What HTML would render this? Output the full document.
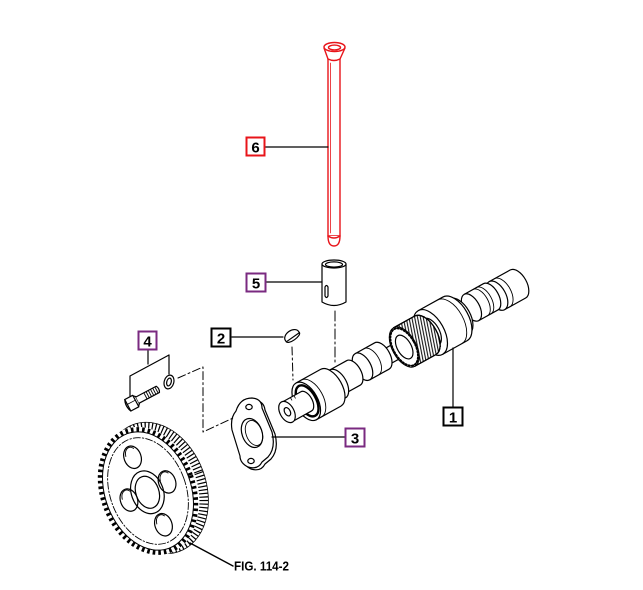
<!DOCTYPE html>
<html><head><meta charset="utf-8"><style>
html,body{margin:0;padding:0;background:#fff;}
svg{display:block;}
</style></head><body>
<svg width="643" height="590" viewBox="0 0 643 590" xmlns="http://www.w3.org/2000/svg">
<defs>
<pattern id="hatch" width="2.8" height="8" patternUnits="userSpaceOnUse" patternTransform="rotate(18)">
<line x1="0.6" y1="0" x2="0.6" y2="8" stroke="#000" stroke-width="1"/>
</pattern>
</defs>
<rect width="643" height="590" fill="#fff"/>
<g fill="none" stroke="#000" stroke-width="1.2" stroke-linejoin="round" stroke-linecap="round">

<!-- Pushrod (6) -->
<g stroke="#e8141a" stroke-width="1.4" fill="#fff">
<path d="M328,58 L328,236 L340,236 L340,58 Z"/>
<path d="M330.6,63 L330.6,233" stroke-width="0.8"/>
<path d="M324,48 L328,59 Q334,62 340,59 L345,48"/>
<ellipse cx="334.5" cy="47" rx="10.5" ry="4.5"/>
<ellipse cx="334.5" cy="47.5" rx="6" ry="2.4"/>
<path d="M328,236 Q328,246 334,246 Q340,246 340,236"/>
<path d="M328,236 Q334,240 340,236"/>
</g>
<line x1="265" y1="147" x2="328" y2="147"/>

<!-- Tappet (5) -->
<path d="M322,264 L322,302 Q334,309 346,302 L346,264" fill="#fff"/>
<ellipse cx="334" cy="264" rx="12" ry="4" fill="#fff"/>
<ellipse cx="334" cy="264.5" rx="8.5" ry="2.6"/>
<path d="M325,287 L325,296 Q326.5,299 328,296 L328,287 Q326.5,284 325,287Z"/>
<line x1="266" y1="282" x2="322" y2="282"/>
<path d="M335,311 L335,362" stroke-dasharray="10 3 2 3" stroke-width="1"/>

<!-- Key (2) -->
<g transform="translate(292,336) rotate(-35)">
<path d="M-8,0 A8,5.5 0 0 1 8,0 L8,1.5 L-8,1.5 Z" fill="#fff"/>
<path d="M-8,1.5 A8,3 0 0 0 8,1.5"/>
</g>
<line x1="232" y1="337" x2="283" y2="337"/>
<path d="M292,347 L293,380" stroke-dasharray="8 3 2 3" stroke-width="1"/>

<!-- Camshaft (1) -->
<g transform="translate(287,412) rotate(-29)">
<path d="M52,-8 L240,-8 L240,8 L52,8 Z" fill="#fff"/>
<!-- rear end -->
<path d="M240,-16 L264,-16 A8.8,16 0 0 1 264,16 L240,16 Z" fill="#fff"/>
<ellipse cx="240" cy="0" rx="8.8" ry="16" fill="#fff"/>
<path d="M246,-16 A8.8,16 0 0 1 246,16" stroke-width="0.9"/>
<!-- rear lobes -->
<path d="M212,-17 L234,-17 A8,15 0 0 1 234,13 L212,13 Z" fill="#fff"/>
<ellipse cx="212" cy="-2" rx="8" ry="15" fill="#fff"/>
<path d="M222,-17 A8,15 0 0 1 222,13" stroke-width="0.9"/>
<path d="M226,-17 A8,15 0 0 1 226,13" stroke-width="0.9"/>
<!-- journal 2 -->
<path d="M192,-20 L197,-20 A11,20 0 0 1 197,20 L192,20 Z" fill="#fff"/>
<path d="M164,-25 L192,-25 A13.7,25 0 0 1 192,25 L164,25 Z" fill="#fff"/>
<ellipse cx="164" cy="0" rx="13.7" ry="25" fill="#fff"/>
<ellipse cx="165" cy="0" rx="8" ry="15"/>
<path d="M186,-25 A13.7,25 0 0 1 186,25" stroke-width="0.9"/>
<!-- gear hub -->
<path d="M156,-17 L166,-17 L166,17 L156,17 Z" fill="#fff"/>
<!-- gear -->
<path d="M134,-22 L158,-22 A12,22 0 0 1 158,22 L134,22 Z" fill="#fff"/>
<path d="M134,-22 L158,-22 A12,22 0 0 1 158,22 L134,22 Z" fill="url(#hatch)"/>
<ellipse cx="134" cy="0" rx="12" ry="22" fill="#fff" stroke-width="1"/>
<ellipse cx="134" cy="0" rx="11" ry="20.5" stroke-width="2" stroke-dasharray="1.3 2"/>
<ellipse cx="134" cy="0" rx="7" ry="13"/>
<!-- lobe B -->
<path d="M88,-18 L110,-18 A8.3,15 0 0 1 110,12 L88,12 Z" fill="#fff"/>
<ellipse cx="88" cy="-3" rx="8.3" ry="15" fill="#fff"/>
<path d="M98,-18 A8.3,15 0 0 1 98,12" stroke-width="0.9"/>
<!-- lobe A -->
<path d="M58,-16 L77,-16 A7.7,14 0 0 1 77,12 L58,12 Z" fill="#fff"/>
<ellipse cx="58" cy="-2" rx="7.7" ry="14" fill="#fff"/>
<!-- collar -->
<path d="M50,-16 L58,-16 A8.8,16 0 0 1 58,16 L50,16 Z" fill="#fff"/>
<!-- front journal -->
<path d="M22,-21 L50,-21 A11.5,21 0 0 1 50,21 L22,21 Z" fill="#fff"/>
<ellipse cx="22" cy="0" rx="11.5" ry="21" fill="#fff"/>
<ellipse cx="23" cy="0" rx="9" ry="17" stroke-width="2.4"/>
<path d="M28,-21 A11.5,21 0 0 1 28,21" stroke-width="0.9"/>
<!-- nose -->
<path d="M0,-11 L22,-11 A6,11 0 0 1 22,11 L0,11 Z" fill="#fff"/>
<ellipse cx="0" cy="0" rx="7" ry="11.5" fill="#fff"/>
<ellipse cx="0.5" cy="0" rx="2.8" ry="4.5"/>
<path d="M10,-11 L10,-8 M14,-11 L14,-8" stroke-width="0.8"/>
</g>
<line x1="453" y1="348" x2="453" y2="407"/>

<!-- Gasket (3) -->
<path d="M239,411 Q243,400 254,400 Q264,401 265,410 L275,434 Q279,450 271,459 L265,464 Q261,472 251,469 Q243,465 243,458 L235,432 Q233,420 239,411 Z" fill="#fff"/>
<path d="M236,411 Q240,398 252,398 Q262,399 262,408 L272,432 Q276,448 268,457 L262,462 Q258,470 248,467 Q240,463 240,456 L232,430 Q230,418 236,411 Z" fill="#fff"/>
<ellipse cx="252" cy="433" rx="10" ry="15" transform="rotate(-20 252 433)"/>
<ellipse cx="254" cy="433" rx="8" ry="13" transform="rotate(-20 254 433)" stroke-width="0.9"/>
<ellipse cx="249" cy="407" rx="3.2" ry="2.6"/>
<ellipse cx="251" cy="461" rx="3.2" ry="2.6"/>
<line x1="272" y1="437" x2="345" y2="437"/>

<!-- dashed bracket -->
<path d="M178,378 L203,367 L203,432 L233,418" stroke-dasharray="8 3 2 3" stroke-width="1"/>

<!-- Bolt & washer (4) -->
<g transform="translate(134,402) rotate(-28)">
<path d="M2,-6 L4,-4 L4,4 L2,6" fill="#fff"/>
<path d="M-7,-6.5 L2,-6.5 L2,6.5 L-7,6.5 Z" fill="#fff"/>
<path d="M-7,-6.5 Q-10,0 -7,6.5" />
<path d="M-7,-1 L2,-1" stroke-width="0.8"/>
<path d="M4,-3.5 L27,-3.5 Q29,0 27,3.5 L4,3.5" fill="#fff"/>
<path d="M13,-3.5 L13,3.5 M15.5,-3.5 L15.5,3.5 M18,-3.5 L18,3.5 M20.5,-3.5 L20.5,3.5 M23,-3.5 L23,3.5 M25.5,-3.5 L25.5,3.5" stroke-width="0.9"/>
</g>
<ellipse cx="169" cy="382" rx="4.8" ry="7" transform="rotate(15 169 382)" fill="#fff"/>
<ellipse cx="169" cy="382" rx="2.2" ry="4" transform="rotate(15 169 382)"/>
<path d="M148,349 L148,364 M130,376 L169,355 M169,355 L169,374 M130,376 L130,396"/>

<!-- Gear -->
<g transform="translate(148,491) rotate(-20)">
<ellipse cx="9" cy="0" rx="45" ry="63" stroke-width="9" stroke-dasharray="1.2 2.3" stroke-linecap="butt"/>
<ellipse cx="9" cy="0" rx="49.5" ry="67.5" stroke-width="0.8"/>
<ellipse cx="0" cy="0" rx="48" ry="66" fill="#fff" stroke="none"/>
<ellipse cx="0" cy="0" rx="45.5" ry="63.5" stroke-width="4.5" stroke-dasharray="2.6 3" stroke-linecap="butt"/>
<ellipse cx="0" cy="0" rx="43" ry="61" fill="#fff" stroke-width="1"/>
<ellipse cx="0" cy="0" rx="38" ry="55" stroke-width="0.9" stroke-dasharray="7 2 1.5 2"/>
<ellipse cx="-1" cy="1" rx="16" ry="22"/>
<ellipse cx="-1" cy="1" rx="11.5" ry="16.5"/>
<ellipse cx="-3" cy="-37" rx="8.5" ry="11.5"/>
<path d="M-9,-40 A6,9 0 0 1 1,-45" stroke-width="0.9"/>
<ellipse cx="21" cy="-2" rx="8.5" ry="11.5"/>
<path d="M15,-5 A6,9 0 0 1 25,-10" stroke-width="0.9"/>
<ellipse cx="-21" cy="2" rx="8.5" ry="11.5"/>
<path d="M-27,-1 A6,9 0 0 1 -17,-6" stroke-width="0.9"/>
<ellipse cx="3" cy="37" rx="8.5" ry="11.5"/>
<path d="M-3,34 A6,9 0 0 1 7,29" stroke-width="0.9"/>
</g>
<line x1="190" y1="543" x2="233" y2="566" stroke-width="1.4"/>
</g>

<!-- Labels -->
<g font-family="Liberation Sans, Arial, sans-serif" font-weight="bold" font-size="15" text-anchor="middle">
<rect x="246.5" y="137.5" width="18" height="18" fill="#fff" stroke="#e8141a" stroke-width="2"/>
<text x="255.5" y="152.5">6</text>
<rect x="246.5" y="273.5" width="19" height="18" fill="#fff" stroke="#7a2a80" stroke-width="2"/>
<text x="256" y="288.5">5</text>
<rect x="211.5" y="328.5" width="19" height="18" fill="#fff" stroke="#000" stroke-width="2"/>
<text x="221" y="343.5">2</text>
<rect x="138.5" y="331.5" width="18" height="18" fill="#fff" stroke="#7a2a80" stroke-width="2"/>
<text x="147.5" y="346.5">4</text>
<rect x="345.5" y="428.5" width="19" height="18" fill="#fff" stroke="#7a2a80" stroke-width="2"/>
<text x="355" y="443.5">3</text>
<rect x="443.5" y="407.5" width="19" height="18" fill="#fff" stroke="#000" stroke-width="2"/>
<text x="453" y="422.5">1</text>
</g>
<text x="234" y="570.5" font-family="Liberation Sans, Arial, sans-serif" font-weight="bold" font-size="13" textLength="55" lengthAdjust="spacingAndGlyphs">FIG. 114-2</text>
</svg>
</body></html>
